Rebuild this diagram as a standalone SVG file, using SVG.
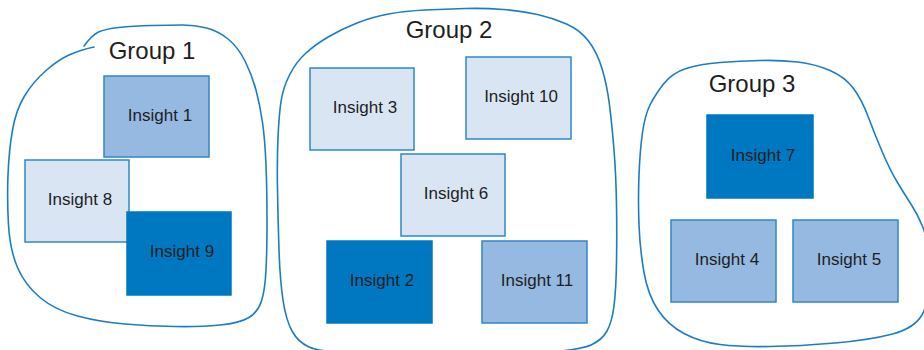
<svg xmlns="http://www.w3.org/2000/svg" width="924" height="350" viewBox="0 0 924 350">
<style>
.blob{fill:none;stroke:#1B7DC5;stroke-width:1.6;stroke-linejoin:round;stroke-linecap:round}
.box{stroke:#2E88CA;stroke-width:1.5}
.l{fill:#DAE5F4}
.m{fill:#95B9E0}
.d{fill:#0078C1;stroke:#0078C1}
.t{font-family:"Liberation Sans",Arial,sans-serif;font-size:17px;fill:#1E1E1E;text-anchor:middle}
.g{font-family:"Liberation Sans",Arial,sans-serif;font-size:24px;fill:#1E1E1E;text-anchor:middle}
</style>
<rect width="924" height="350" fill="#FFFFFF"/>
<g id="group1">
<path class="blob" d="M84,46 Q92,35 98.5,32 Q105,29 119,27.5 Q133,26 151.5,25.5 Q170,25 182.5,25 Q195,25 206.5,28 Q218,31 228,39 Q238,47 245,61 Q252,75 256,90 Q260,105 262.5,122.5 Q265,140 266,165 Q267,190 267,220 Q267,250 266,270 Q265,290 261.5,301 Q258,312 249,317.5 Q240,323 220,325 Q200,327 175,326.5 Q150,326 125,324 Q100,322 77.5,316 Q55,310 40,297.5 Q25,285 17.5,267.5 Q10,250 8.5,225 Q7,200 8,175 Q9,150 12.5,130 Q16,110 24.5,96 Q33,82 45.5,71 Q58,60 69,55 Q80,50 94,47"/>
<text class="g" x="152" y="59">Group 1</text>
</g>
<g id="group2">
<path class="blob" d="M281,101.5 Q283,88 289.5,75 Q296,62 306,53 Q316,44 329,36.5 Q342,29 357,23 Q372,17 388.5,14 Q405,11 425,10 Q445,9 465,8.5 Q485,8 503.5,9.5 Q522,11 537.5,14.5 Q553,18 566.5,24 Q580,30 588.5,41 Q597,52 602,68.5 Q607,85 609.5,105 Q612,125 614,150 Q616,175 616.5,205 Q617,235 616.5,262.5 Q616,290 614,306 Q612,322 607,331 Q602,340 591,345 Q580,350 540,353 Q500,356 450,356 Q400,356 360,354 Q320,352 309,347 Q298,342 292,331 Q286,320 283,300 Q280,280 279,250 Q278,220 277.5,190 Q277,160 278,137.5 Q279,115 281,101.5 Z"/>
<text class="g" x="449" y="38">Group 2</text>
</g>
<g id="group3">
<path class="blob" d="M650,105 Q655,95 663.5,84 Q672,73 686,68.5 Q700,64 720,62.5 Q740,61 760,60.5 Q780,60 797.5,62 Q815,64 830,70.5 Q845,77 853.5,88.5 Q862,100 868.5,117.5 Q875,135 882.5,152.5 Q890,170 897.5,182.5 Q905,195 911.5,205 Q918,215 923,227.5 Q928,240 929,270 Q930,300 922.5,314 Q915,328 892.5,334 Q870,340 835,343 Q800,346 770,346.5 Q740,347 720,344.5 Q700,342 684,333.5 Q668,325 658,310 Q648,295 644,272.5 Q640,250 639,225 Q638,200 639,175 Q640,150 642.5,132.5 Q645,115 650,105 Z"/>
<text class="g" x="752" y="92">Group 3</text>
</g>
<g id="insight1"><rect class="box m" x="104" y="76" width="105" height="81"/><text class="t" x="160" y="121">Insight 1</text></g>
<g id="insight8"><rect class="box l" x="25" y="160" width="104" height="82"/><text class="t" x="80" y="205">Insight 8</text></g>
<g id="insight9"><rect class="box d" x="127" y="212" width="104" height="83"/><text class="t" x="182" y="257">Insight 9</text></g>
<g id="insight3"><rect class="box l" x="310" y="68" width="104" height="82"/><text class="t" x="365" y="113">Insight 3</text></g>
<g id="insight10"><rect class="box l" x="466" y="57" width="105" height="82"/><text class="t" x="521" y="102">Insight 10</text></g>
<g id="insight6"><rect class="box l" x="401" y="154" width="104" height="82"/><text class="t" x="456" y="199">Insight 6</text></g>
<g id="insight2"><rect class="box d" x="327" y="241" width="105" height="82"/><text class="t" x="382" y="286">Insight 2</text></g>
<g id="insight11"><rect class="box m" x="482" y="241" width="105" height="82"/><text class="t" x="537" y="286">Insight 11</text></g>
<g id="insight7"><rect class="box d" x="707" y="115" width="106" height="83"/><text class="t" x="763" y="161">Insight 7</text></g>
<g id="insight4"><rect class="box m" x="671" y="220" width="105" height="82"/><text class="t" x="727" y="265">Insight 4</text></g>
<g id="insight5"><rect class="box m" x="793" y="220" width="105" height="82"/><text class="t" x="849" y="265">Insight 5</text></g>
<g id="connectors"></g>
</svg>
